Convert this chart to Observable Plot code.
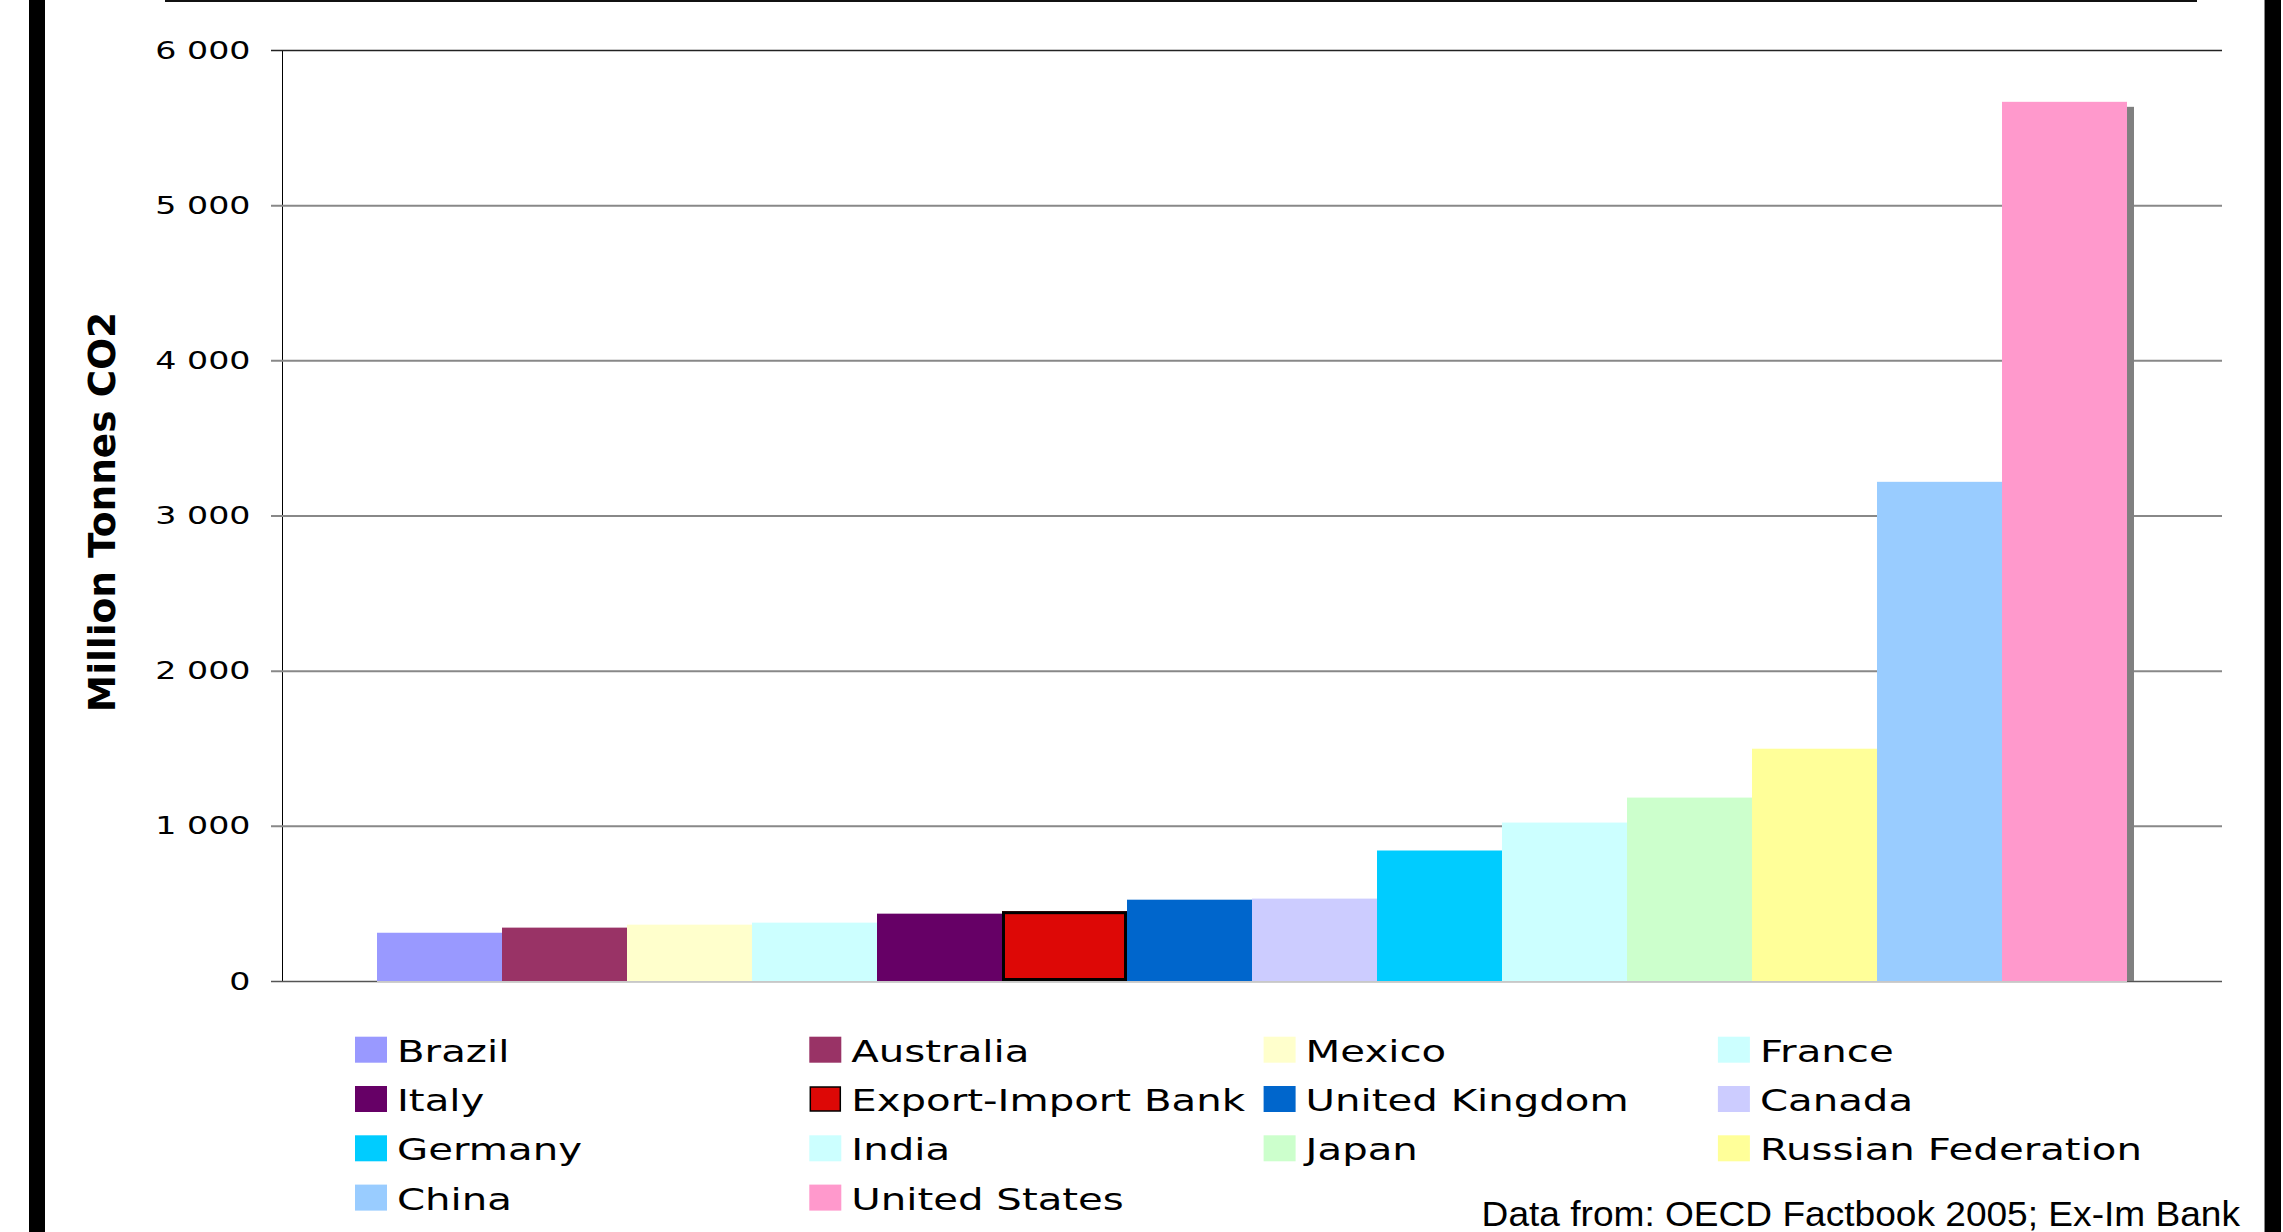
<!DOCTYPE html>
<html>
<head>
<meta charset="utf-8">
<script src="https://cdn.jsdelivr.net/npm/d3@7"></script>
<script src="https://cdn.jsdelivr.net/npm/@observablehq/plot@0.6"></script>
<style>
  html, body { margin: 0; padding: 0; background: #ffffff; }
  #wrap { position: relative; width: 2283px; height: 1232px; overflow: hidden; background: #ffffff; }
  #wrap svg { display: block; }
  .deco { position: absolute; background: #000; }
</style>
</head>
<body>
<div id="wrap">
  <div id="chart"></div>
  <div id="legend"></div>
  <div class="deco" style="left:29px;top:0;width:16px;height:1232px;"></div>
  <div class="deco" style="left:2264px;top:0;width:16px;height:1232px;border-left:1px solid #888;"></div>
  <div class="deco" style="left:165px;top:0;width:2032px;height:2px;background:#111;"></div>
</div>
<script>
// ---- data ----
const countries = ["Brazil", "Australia", "Mexico", "France", "Italy", "Export-Import Bank",
  "United Kingdom", "Canada", "Germany", "India", "Japan", "Russian Federation", "China", "United States"];
const values = [311, 344, 363, 376, 434, 450, 524, 531, 841, 1021, 1182, 1497, 3217, 5666];
const colors = ["#9999FF", "#993366", "#FFFFCC", "#CCFFFF", "#660066", "#DD0806",
  "#0066CC", "#CCCCFF", "#00CCFF", "#CCFFFF", "#CCFFCC", "#FFFF99", "#99CCFF", "#FF99CC"];
const yTicks = [0, 1000, 2000, 3000, 4000, 5000, 6000];
const gridTicks = [1000, 2000, 3000, 4000, 5000];
const yTitle = "Million Tonnes CO2";
const caption = "Data from: OECD Factbook 2005; Ex-Im Bank";
const highlighted = "Export-Import Bank";

const data = countries.map((c, i) => ({country: c, value: values[i]}));
const fmt = d => d3.format(",")(d).replace(/,/g, " ");

const plot = Plot.plot({
  width: 2283,
  height: 1000,
  marginTop: 50,
  marginBottom: 19,
  marginLeft: 282,
  marginRight: 61,
  style: {fontFamily: "'DejaVu Sans', Verdana, sans-serif", fontSize: "25px", background: "#ffffff", color: "#000"},
  x: {type: "band", domain: countries, paddingInner: 0, paddingOuter: 0.755, axis: null},
  y: {domain: [0, 6000], ticks: yTicks, tickFormat: fmt, tickSize: 0, tickPadding: 32, line: true, label: null},
  color: {domain: countries, range: colors},
  marks: [
    Plot.ruleY(gridTicks, {stroke: "#888888", strokeWidth: 2, insetLeft: -11}),
    Plot.ruleY([6000], {stroke: "#222222", strokeWidth: 1.5, insetLeft: -11}),
    Plot.ruleY([0], {stroke: "#555555", strokeWidth: 1.5, insetLeft: -11}),
    Plot.barY(data, {x: "country", y: "value", fill: "#c8c8c8", dy: 1.5}),
    Plot.barY(data, {x: "country", y: "value", fill: "#808080", dx: 7, insetTop: 5}),
    Plot.barY(data, {x: "country", y: "value", fill: "country"}),
    Plot.barY(data.filter(d => d.country === highlighted),
      {x: "country", y: "value", fill: "country", stroke: "#000", strokeWidth: 3, inset: 1.5}),
    Plot.text([yTitle], {frameAnchor: "left", rotate: -90, dx: -168, dy: -4, fontSize: 37.5,
      fontWeight: "bold", lineAnchor: "bottom", textAnchor: "middle", fill: "#000", ariaLabel: "ytitle"})
  ]
});
document.getElementById("chart").appendChild(plot);

// horizontal stretch of the original chart's lettering
function stretch(el, s) {
  const t = el.getAttribute("transform");
  if (t) {
    if (t.includes("rotate")) el.setAttribute("transform", t.replace(/rotate/, `scale(${s},1) rotate`));
    else el.setAttribute("transform", t + ` scale(${s},1)`);
  } else {
    const x = el.getAttribute("x") || 0, y = el.getAttribute("y") || 0;
    el.removeAttribute("x"); el.removeAttribute("y");
    el.setAttribute("transform", `translate(${x},${y}) scale(${s},1)`);
  }
}
plot.querySelectorAll('[aria-label="y-axis tick label"] text').forEach(el => stretch(el, 1.33));
plot.querySelectorAll('[aria-label="ytitle"] text').forEach(el => stretch(el, 1.3));

// ---- legend + caption ----
const lg = d3.select("#legend").append("svg").attr("width", 2283).attr("height", 232);
const colStep = 454.3, rowStep = 49.3;
countries.forEach((c, i) => {
  const col = i % 4, row = Math.floor(i / 4);
  const sx = 355 + col * colStep, sy = 36.7 + row * rowStep;
  const r = lg.append("rect").attr("x", sx).attr("y", sy).attr("width", 32).attr("height", 26)
    .attr("fill", colors[i]);
  if (c === highlighted) r.attr("stroke", "#000").attr("stroke-width", 1.5)
    .attr("x", sx + 1).attr("y", sy + 1).attr("width", 30).attr("height", 24);
  lg.append("text")
    .attr("transform", `translate(${sx + 42},${61.7 + row * rowStep}) scale(1.32,1)`)
    .attr("font-family", "'DejaVu Sans', Verdana, sans-serif")
    .attr("font-size", 30.5)
    .attr("fill", "#000")
    .text(c);
});
lg.append("text")
  .attr("transform", `translate(2240,225.7) scale(1.06,1)`)
  .attr("text-anchor", "end")
  .attr("font-family", "'Liberation Sans', Arial, sans-serif")
  .attr("font-size", 35)
  .attr("fill", "#000")
  .text(caption);
</script>
</body>
</html>
